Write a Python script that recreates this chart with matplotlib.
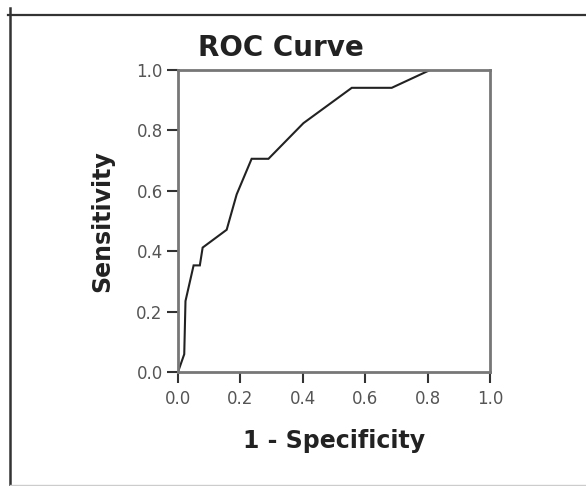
import matplotlib
matplotlib.use("Agg")
import matplotlib.pyplot as plt
from matplotlib.lines import Line2D

# ROC curve points
fpr = [0.0, 0.02, 0.024, 0.05, 0.07, 0.079, 0.156, 0.188, 0.236, 0.29,
       0.402, 0.557, 0.685, 0.808, 1.0]
tpr = [0.0, 0.059, 0.235, 0.353, 0.353, 0.412, 0.471, 0.588, 0.706, 0.706,
       0.824, 0.941, 0.941, 1.0, 1.0]
ticks = [0.0, 0.2, 0.4, 0.6, 0.8, 1.0]
tick_labels = ["0.0", "0.2", "0.4", "0.6", "0.8", "1.0"]

W, H = 586, 486
fig = plt.figure(figsize=(W / 100, H / 100), dpi=100)
fig.patch.set_facecolor("white")

# axes box in pixel terms: x 178..490, y 70..372
ax = fig.add_axes([178 / W, 1 - 372 / H, 312 / W, 302 / H])
ax.plot(fpr, tpr, color="#222222", lw=1.5, solid_joinstyle="miter")

ax.set_xlim(0, 1)
ax.set_ylim(0, 1)
ax.set_xticks(ticks)
ax.set_yticks(ticks)
ax.set_xticklabels(tick_labels)
ax.set_yticklabels(tick_labels)

for s in ax.spines.values():
    s.set_color("#777777")
    s.set_linewidth(2)

ax.tick_params(axis="both", direction="out", length=8, width=1.5,
               color="#333333", labelsize=12, labelcolor="#555555")
ax.tick_params(axis="x", pad=5)
ax.tick_params(axis="y", pad=3)

ax.set_title("ROC Curve", fontsize=20, fontweight="bold", color="#222222",
             x=(280.5 - 178) / 312, y=(372 - 56) / 302, pad=0, va="baseline")
ax.set_xlabel("1 - Specificity", fontsize=17, fontweight="bold",
              color="#222222", va="baseline")
ax.xaxis.set_label_coords(0.5, (372 - 448) / 302)
ax.set_ylabel("Sensitivity", fontsize=17, fontweight="bold",
              color="#222222", va="center")
ax.yaxis.set_label_coords((102.5 - 178) / 312, 0.5)

# outer frame around the chart
fig.add_artist(Line2D([8 / W, 1], [1 - 15 / H, 1 - 15 / H], color="#333333",
                      lw=1.6, transform=fig.transFigure))
fig.add_artist(Line2D([10 / W, 10 / W], [0, 1 - 8 / H], color="#333333",
                      lw=1.8, transform=fig.transFigure))
fig.add_artist(Line2D([10 / W, 1], [1.5 / H, 1.5 / H], color="#cccccc",
                      lw=1, transform=fig.transFigure))

fig.savefig("out.png", dpi=100)
